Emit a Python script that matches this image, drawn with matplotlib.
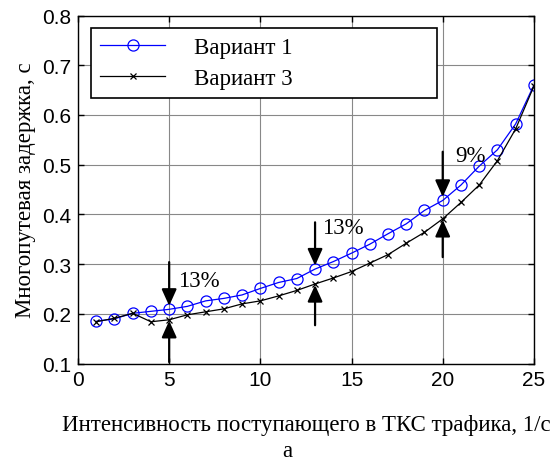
import matplotlib
matplotlib.use('Agg')
import matplotlib.pyplot as plt
import numpy as np

# traffic intensity, 1/s
x = np.arange(1, 26)
# multipath delay, s
variant1 = [0.185, 0.190, 0.201, 0.205, 0.209, 0.215, 0.226, 0.231, 0.238, 0.251,
            0.263, 0.271, 0.290, 0.305, 0.322, 0.340, 0.361, 0.381, 0.408, 0.428,
            0.459, 0.497, 0.530, 0.582, 0.660]
variant3 = [0.184, 0.191, 0.201, 0.184, 0.188, 0.198, 0.204, 0.210, 0.220, 0.226,
            0.236, 0.247, 0.260, 0.272, 0.285, 0.302, 0.319, 0.342, 0.364, 0.391,
            0.424, 0.459, 0.508, 0.572, 0.658]
labels = ['Вариант 1', 'Вариант 3']

# gap markers: x position, arrow tails (top, bottom), text and its anchor
gap_x = [5, 13, 20]
gap_top = [0.304, 0.384, 0.526]
gap_bottom = [0.103, 0.177, 0.314]
gap_text = ['13%', '13%', '9%']
gap_text_pos = [(5.5, 0.267), (13.4, 0.374), (20.7, 0.518)]

serif = 'Liberation Serif'
sans = 'Liberation Sans'
fs = 16.5

fig = plt.figure(figsize=(5.55, 4.64), dpi=100)
ax = fig.add_axes([0.1405, 0.2144, 0.8215, 0.75])

ax.plot(x, variant1, color='blue', lw=0.9, marker='o', ms=8, mfc='none',
        mec='blue', mew=0.9, label=labels[0])
ax.plot(x, variant3, color='black', lw=0.9, marker='x', ms=5, mew=0.9,
        label=labels[1])

v1 = dict(zip(x, variant1))
v3 = dict(zip(x, variant3))
arrow = dict(arrowstyle='-|>,head_length=1.0,head_width=0.45', color='black',
             lw=1.6, shrinkA=0, shrinkB=0)
for gx, top, bot, txt, pos in zip(gap_x, gap_top, gap_bottom, gap_text, gap_text_pos):
    ax.annotate('', xy=(gx, v1[gx] + 0.007), xytext=(gx, top), arrowprops=arrow)
    ax.annotate('', xy=(gx, v3[gx] - 0.002), xytext=(gx, bot), arrowprops=arrow)
    ax.text(pos[0], pos[1], txt, fontsize=fs, family=serif, va='center', ha='left')

ax.set_xlim(0, 25)
ax.set_ylim(0.1, 0.8)
ax.set_xticks(np.arange(0, 26, 5))
ax.set_yticks(np.arange(0.1, 0.81, 0.1))
ax.set_yticklabels(['%.1f' % v for v in np.arange(0.1, 0.81, 0.1)])
ax.grid(True, color='#888888', lw=0.8)
ax.tick_params(direction='in', top=True, right=True, length=4, width=1,
               labelsize=15, pad=5)
for t in ax.get_xticklabels() + ax.get_yticklabels():
    t.set_family(sans)
for s in ax.spines.values():
    s.set_linewidth(1.0)

ax.set_xlabel('Интенсивность поступающего в ТКС трафика, 1/с',
              family=serif, fontsize=fs, labelpad=18)
ax.set_ylabel('Многопутевая задержка, с', family=serif, fontsize=fs, labelpad=4)
fig.text(0.518, 0.026, 'а', family=serif, fontsize=fs, ha='center', va='center')

leg = ax.legend(loc='upper left', bbox_to_anchor=(0.0285, 0.766, 0.7585, 0.198),
                mode='expand', borderaxespad=0, handlelength=2.83, handletextpad=1.25,
                labelspacing=0.42, borderpad=0.4, fancybox=False, framealpha=1,
                edgecolor='black', prop={'family': serif, 'size': fs})
leg.get_frame().set_linewidth(1.2)

fig.savefig('out.png', dpi=100)
